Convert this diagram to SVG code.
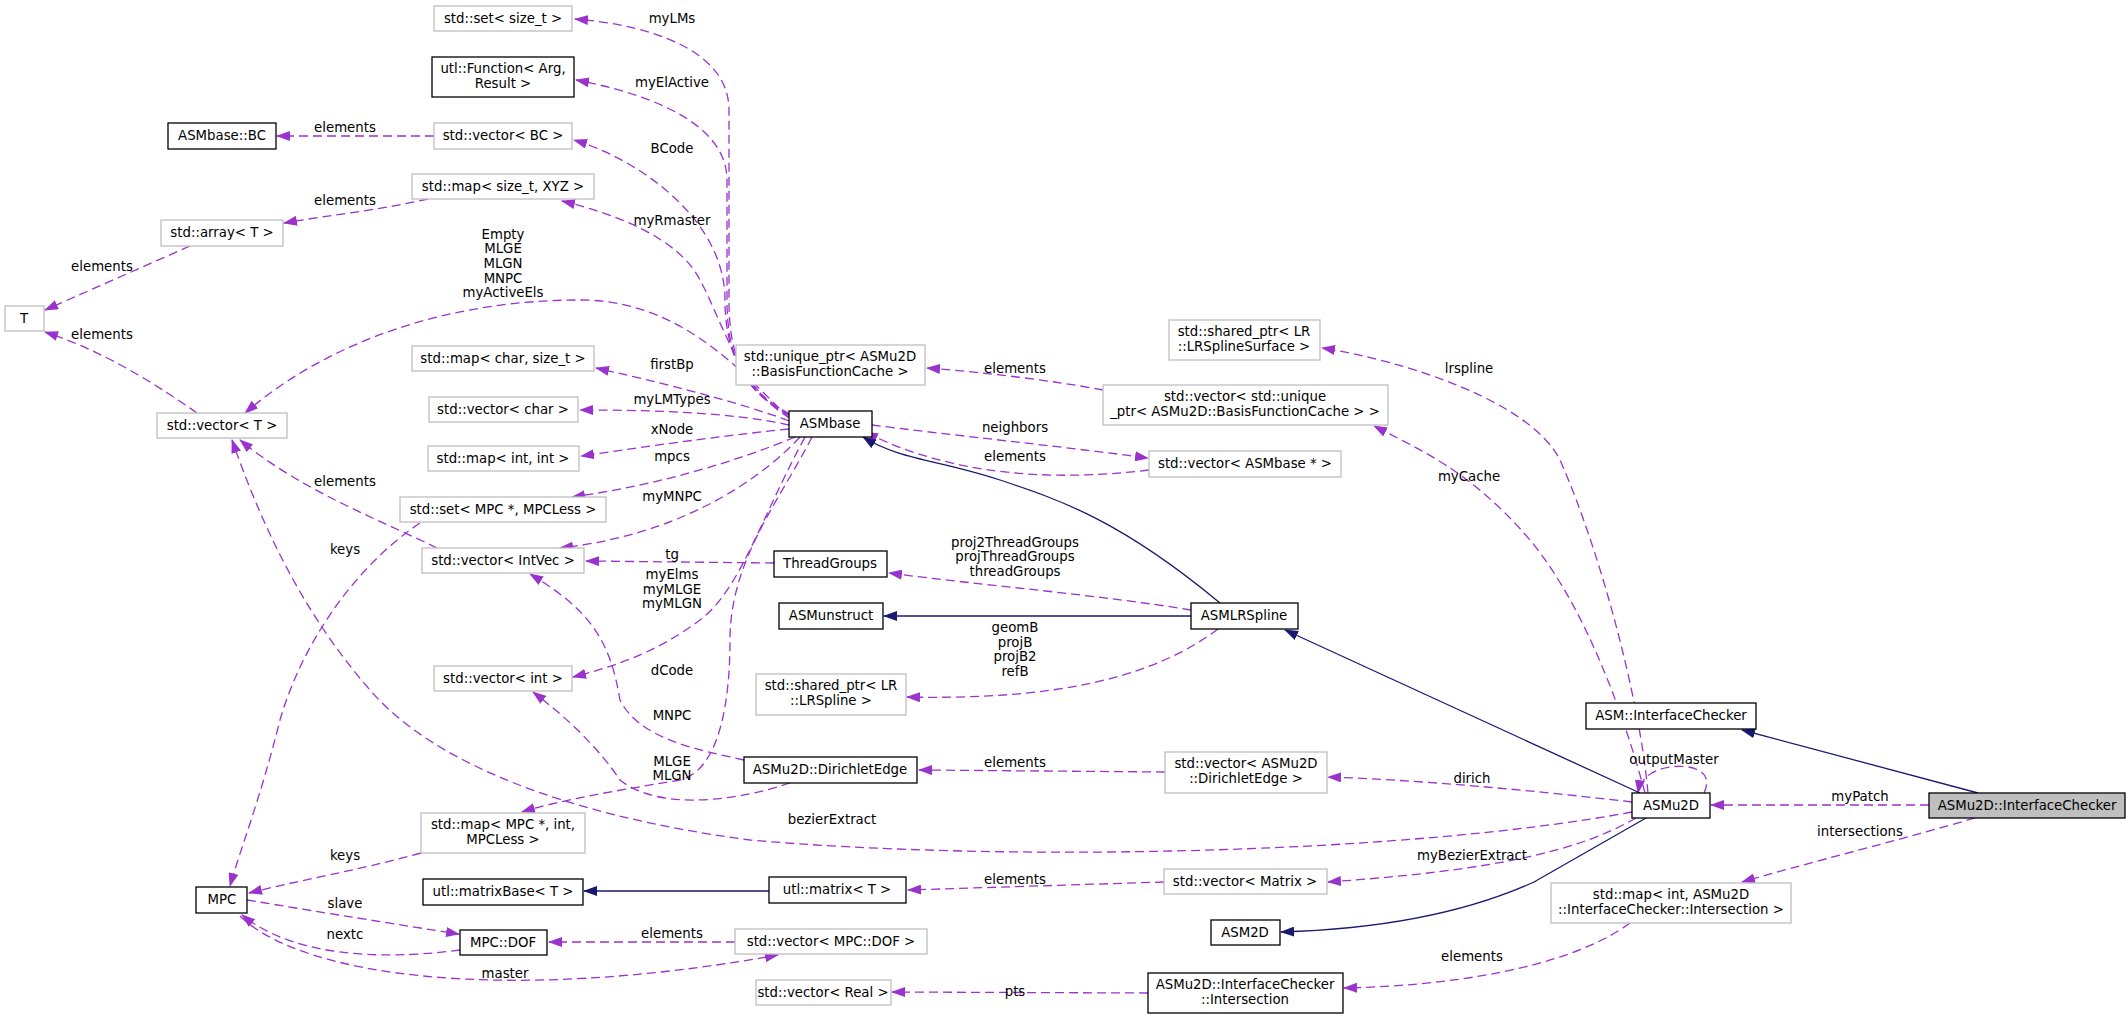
<svg xmlns="http://www.w3.org/2000/svg" width="2127" height="1018" viewBox="0 0 2127 1018">
<style>
text{font-family:"DejaVu Sans",sans-serif;font-size:13.3px;fill:#000}
.n text{text-anchor:middle}
.g{fill:#fff;stroke:#bfbfbf;stroke-width:1.3}
.b{fill:#fff;stroke:#000;stroke-width:1.3}
.e{fill:none;stroke:#9a32cd;stroke-width:1.3;stroke-dasharray:9,5;marker-end:url(#ap)}
.i{fill:none;stroke:#191970;stroke-width:1.3;marker-end:url(#an)}
.l{text-anchor:middle}
</style>
<defs>
<marker id="ap" markerWidth="14" markerHeight="10" refX="13" refY="5" orient="auto" markerUnits="userSpaceOnUse"><path d="M0,0 L14,5 L0,10 z" fill="#9a32cd"/></marker>
<marker id="an" markerWidth="14" markerHeight="10" refX="13" refY="5" orient="auto" markerUnits="userSpaceOnUse"><path d="M0,0 L14,5 L0,10 z" fill="#191970"/></marker>
</defs>
<rect width="2127" height="1018" fill="#fff"/>
<g id="edges">
<path class="e" d="M790,414 C745,390 729,360 729,300 L729,110 C729,50 650,25 575,19"/>
<path class="e" d="M790,415 C745,392 727,360 727,300 L727,180 C727,120 640,92 576,80"/>
<path class="e" d="M790,416 C750,395 725,360 725,300 C725,220 640,160 574,140"/>
<path class="e" d="M790,418 C740,390 722,320 700,280 C680,240 620,215 562,201"/>
<path class="e" d="M789,418 C740,370 680,300 580,300 C450,300 330,340 245,413"/>
<path class="e" d="M789,421 C740,402 650,380 596,368"/>
<path class="e" d="M789,425 C730,412 650,410 580,410"/>
<path class="e" d="M789,429 C720,436 650,446 581,456"/>
<path class="e" d="M795,437 C740,460 660,485 572,497"/>
<path class="e" d="M800,437 C760,480 680,535 560,548"/>
<path class="e" d="M805,437 C760,520 740,590 700,620 C660,650 620,665 573,677"/>
<path class="e" d="M812,437 C780,500 730,560 730,640 C730,700 720,770 680,780 C620,790 560,800 522,812"/>
<path class="e" d="M774,563 L586,561"/>
<path class="e" d="M437,548 C380,520 300,490 240,440"/>
<path class="e" d="M420,523 C350,570 300,650 280,720 C260,800 240,850 230,886"/>
<path class="e" d="M421,853 C360,870 300,880 249,893"/>
<path class="e" d="M247,900 C320,912 400,925 459,934"/>
<path class="e" d="M460,950 C400,958 300,962 242,915"/>
<path class="e" d="M735,942 L549,942"/>
<path class="e" d="M240,916 C300,975 500,1005 778,955"/>
<path class="e" d="M872,425 C950,435 1050,445 1148,458"/>
<path class="e" d="M1149,470 C1050,482 950,475 865,432"/>
<path class="e" d="M1103,390 C1050,380 980,372 927,368"/>
<path class="e" d="M1648,793 C1640,700 1600,550 1560,460 C1530,400 1400,360 1322,348"/>
<path class="e" d="M1645,793 C1620,700 1580,600 1530,540 C1470,470 1420,450 1374,426"/>
<path class="e" d="M1191,610 C1100,595 980,585 889,573"/>
<path class="e" d="M1218,629 C1150,680 1050,700 907,697"/>
<path class="e" d="M1704,793 C1715,770 1690,764 1670,767 C1650,770 1640,780 1638,793"/>
<path class="e" d="M1632,802 C1530,790 1420,780 1328,777"/>
<path class="e" d="M1632,812 C1400,855 1000,862 750,840 C560,815 430,760 370,690 C300,610 260,520 232,440"/>
<path class="e" d="M1636,818 C1580,850 1500,870 1328,882"/>
<path class="e" d="M744,760 C700,750 640,740 620,700 C610,640 590,610 530,574"/>
<path class="e" d="M790,783 C740,800 660,812 620,780 C600,750 570,720 533,692"/>
<path class="e" d="M1165,772 L919,770"/>
<path class="e" d="M1164,882 L908,890"/>
<path class="e" d="M1148,993 L892,992"/>
<path class="e" d="M1630,923 C1580,960 1480,985 1344,988"/>
<path class="e" d="M1929,805 L1711,805"/>
<path class="e" d="M1975,818 C1900,840 1800,865 1742,882"/>
<path class="e" d="M434,136 L277,136"/>
<path class="e" d="M428,199 C380,210 330,215 284,223"/>
<path class="e" d="M190,246 L45,310"/>
<path class="e" d="M197,413 C150,380 100,350 45,332"/>
<path class="i" d="M1220,603 C1120,520 1060,500 1000,480 C940,460 900,460 863,437"/>
<path class="i" d="M1191,616 L884,616"/>
<path class="i" d="M1640,793 L1285,630"/>
<path class="i" d="M1646,818 L1534,882 C1450,920 1350,930 1281,932"/>
<path class="i" d="M769,891 L584,891"/>
<path class="i" d="M1978,793 L1742,730"/>
<text class="l" x="672" y="23">myLMs</text>
<text class="l" x="672" y="87">myElActive</text>
<text class="l" x="345" y="132">elements</text>
<text class="l" x="672" y="153">BCode</text>
<text class="l" x="345" y="205">elements</text>
<text class="l" x="672" y="225">myRmaster</text>
<text class="l" x="503" y="239">Empty</text>
<text class="l" x="503" y="253">MLGE</text>
<text class="l" x="503" y="268">MLGN</text>
<text class="l" x="503" y="283">MNPC</text>
<text class="l" x="503" y="297">myActiveEls</text>
<text class="l" x="102" y="271">elements</text>
<text class="l" x="102" y="339">elements</text>
<text class="l" x="672" y="369">firstBp</text>
<text class="l" x="672" y="404">myLMTypes</text>
<text class="l" x="672" y="434">xNode</text>
<text class="l" x="672" y="461">mpcs</text>
<text class="l" x="672" y="501">myMNPC</text>
<text class="l" x="345" y="486">elements</text>
<text class="l" x="345" y="554">keys</text>
<text class="l" x="672" y="559">tg</text>
<text class="l" x="672" y="579">myElms</text>
<text class="l" x="672" y="594">myMLGE</text>
<text class="l" x="672" y="608">myMLGN</text>
<text class="l" x="672" y="675">dCode</text>
<text class="l" x="672" y="720">MNPC</text>
<text class="l" x="672" y="766">MLGE</text>
<text class="l" x="672" y="780">MLGN</text>
<text class="l" x="345" y="860">keys</text>
<text class="l" x="345" y="908">slave</text>
<text class="l" x="345" y="939">nextc</text>
<text class="l" x="505" y="978">master</text>
<text class="l" x="672" y="938">elements</text>
<text class="l" x="1015" y="373">elements</text>
<text class="l" x="1015" y="432">neighbors</text>
<text class="l" x="1015" y="461">elements</text>
<text class="l" x="1469" y="373">lrspline</text>
<text class="l" x="1469" y="481">myCache</text>
<text class="l" x="1015" y="547">proj2ThreadGroups</text>
<text class="l" x="1015" y="561">projThreadGroups</text>
<text class="l" x="1015" y="576">threadGroups</text>
<text class="l" x="1015" y="632">geomB</text>
<text class="l" x="1015" y="647">projB</text>
<text class="l" x="1015" y="661">projB2</text>
<text class="l" x="1015" y="676">refB</text>
<text class="l" x="1015" y="767">elements</text>
<text class="l" x="1015" y="884">elements</text>
<text class="l" x="1015" y="996">pts</text>
<text class="l" x="832" y="824">bezierExtract</text>
<text class="l" x="1472" y="783">dirich</text>
<text class="l" x="1472" y="860">myBezierExtract</text>
<text class="l" x="1472" y="961">elements</text>
<text class="l" x="1674" y="764">outputMaster</text>
<text class="l" x="1860" y="801">myPatch</text>
<text class="l" x="1860" y="836">intersections</text>
</g>
<g class="n" id="n_set_size_t"><rect class="g" x="434" y="6" width="138" height="25"/><text x="503" y="23">std::set&lt; size_t &gt;</text></g>
<g class="n" id="n_function"><rect class="b" x="432" y="57" width="142" height="40"/><text x="503" y="73">utl::Function&lt; Arg,</text><text x="503" y="88">Result &gt;</text></g>
<g class="n" id="n_bc"><rect class="b" x="168" y="123" width="108" height="26"/><text x="222" y="140">ASMbase::BC</text></g>
<g class="n" id="n_vec_bc"><rect class="g" x="434" y="123" width="138" height="26"/><text x="503" y="140">std::vector&lt; BC &gt;</text></g>
<g class="n" id="n_map_xyz"><rect class="g" x="412" y="174" width="182" height="25"/><text x="503" y="191">std::map&lt; size_t, XYZ &gt;</text></g>
<g class="n" id="n_array"><rect class="g" x="161" y="220" width="122" height="26"/><text x="222" y="237">std::array&lt; T &gt;</text></g>
<g class="n" id="n_T"><rect class="g" x="5" y="306" width="39" height="25"/><text x="24" y="323">T</text></g>
<g class="n" id="n_vec_T"><rect class="g" x="157" y="413" width="130" height="25"/><text x="222" y="430">std::vector&lt; T &gt;</text></g>
<g class="n" id="n_map_char"><rect class="g" x="412" y="346" width="182" height="25"/><text x="503" y="363">std::map&lt; char, size_t &gt;</text></g>
<g class="n" id="n_vec_char"><rect class="g" x="429" y="397" width="149" height="25"/><text x="503" y="414">std::vector&lt; char &gt;</text></g>
<g class="n" id="n_map_int"><rect class="g" x="428" y="446" width="151" height="25"/><text x="503" y="463">std::map&lt; int, int &gt;</text></g>
<g class="n" id="n_set_mpc"><rect class="g" x="400" y="497" width="206" height="25"/><text x="503" y="514">std::set&lt; MPC *, MPCLess &gt;</text></g>
<g class="n" id="n_vec_intvec"><rect class="g" x="422" y="548" width="162" height="25"/><text x="503" y="565">std::vector&lt; IntVec &gt;</text></g>
<g class="n" id="n_vec_int"><rect class="g" x="434" y="666" width="138" height="25"/><text x="503" y="683">std::vector&lt; int &gt;</text></g>
<g class="n" id="n_map_mpc"><rect class="g" x="421" y="813" width="164" height="40"/><text x="503" y="829">std::map&lt; MPC *, int,</text><text x="503" y="844">MPCLess &gt;</text></g>
<g class="n" id="n_mpc"><rect class="b" x="196" y="887" width="51" height="26"/><text x="222" y="904">MPC</text></g>
<g class="n" id="n_matrixbase"><rect class="b" x="423" y="879" width="160" height="26"/><text x="503" y="896">utl::matrixBase&lt; T &gt;</text></g>
<g class="n" id="n_dof"><rect class="b" x="460" y="930" width="87" height="25"/><text x="503" y="947">MPC::DOF</text></g>
<g class="n" id="n_asmbase"><rect class="b" x="789" y="411" width="83" height="26"/><text x="830" y="428">ASMbase</text></g>
<g class="n" id="n_threadgroups"><rect class="b" x="774" y="551" width="113" height="26"/><text x="830" y="568">ThreadGroups</text></g>
<g class="n" id="n_asmunstruct"><rect class="b" x="779" y="603" width="104" height="26"/><text x="831" y="620">ASMunstruct</text></g>
<g class="n" id="n_sp_lrspline"><rect class="g" x="756" y="674" width="150" height="41"/><text x="831" y="690">std::shared_ptr&lt; LR</text><text x="831" y="705">::LRSpline &gt;</text></g>
<g class="n" id="n_dirichletedge"><rect class="b" x="744" y="757" width="173" height="26"/><text x="830" y="774">ASMu2D::DirichletEdge</text></g>
<g class="n" id="n_matrix"><rect class="b" x="769" y="877" width="137" height="26"/><text x="837" y="894">utl::matrix&lt; T &gt;</text></g>
<g class="n" id="n_vec_dof"><rect class="g" x="735" y="929" width="192" height="25"/><text x="831" y="946">std::vector&lt; MPC::DOF &gt;</text></g>
<g class="n" id="n_vec_real"><rect class="g" x="756" y="980" width="135" height="25"/><text x="823" y="997">std::vector&lt; Real &gt;</text></g>
<g class="n" id="n_uniq"><rect class="g" x="736" y="345" width="189" height="40"/><text x="830" y="361">std::unique_ptr&lt; ASMu2D</text><text x="830" y="376">::BasisFunctionCache &gt;</text></g>
<g class="n" id="n_vec_uniq"><rect class="g" x="1103" y="385" width="285" height="40"/><text x="1245" y="401">std::vector&lt; std::unique</text><text x="1245" y="416">_ptr&lt; ASMu2D::BasisFunctionCache &gt; &gt;</text></g>
<g class="n" id="n_sp_surface"><rect class="g" x="1169" y="320" width="151" height="40"/><text x="1244" y="336">std::shared_ptr&lt; LR</text><text x="1244" y="351">::LRSplineSurface &gt;</text></g>
<g class="n" id="n_vec_asmbase"><rect class="g" x="1149" y="451" width="192" height="26"/><text x="1245" y="468">std::vector&lt; ASMbase * &gt;</text></g>
<g class="n" id="n_asmlrspline"><rect class="b" x="1191" y="603" width="107" height="26"/><text x="1244" y="620">ASMLRSpline</text></g>
<g class="n" id="n_vec_dirich"><rect class="g" x="1165" y="752" width="162" height="41"/><text x="1246" y="768">std::vector&lt; ASMu2D</text><text x="1246" y="783">::DirichletEdge &gt;</text></g>
<g class="n" id="n_vec_matrix"><rect class="g" x="1164" y="869" width="163" height="25"/><text x="1245" y="886">std::vector&lt; Matrix &gt;</text></g>
<g class="n" id="n_asm2d"><rect class="b" x="1211" y="920" width="69" height="25"/><text x="1245" y="937">ASM2D</text></g>
<g class="n" id="n_intersection"><rect class="b" x="1148" y="973" width="195" height="40"/><text x="1245" y="989">ASMu2D::InterfaceChecker</text><text x="1245" y="1004">::Intersection</text></g>
<g class="n" id="n_map_intersection"><rect class="g" x="1551" y="883" width="240" height="40"/><text x="1671" y="899">std::map&lt; int, ASMu2D</text><text x="1671" y="914">::InterfaceChecker::Intersection &gt;</text></g>
<g class="n" id="n_asmu2d"><rect class="b" x="1632" y="793" width="78" height="25"/><text x="1671" y="810">ASMu2D</text></g>
<g class="n" id="n_asm_ic"><rect class="b" x="1586" y="703" width="170" height="26"/><text x="1671" y="720">ASM::InterfaceChecker</text></g>
<g class="n" id="n_ic"><rect x="1929" y="793" width="196" height="25" fill="#bfbfbf" stroke="#000" stroke-width="1.3"/><text x="2027" y="810">ASMu2D::InterfaceChecker</text></g>
</svg>
